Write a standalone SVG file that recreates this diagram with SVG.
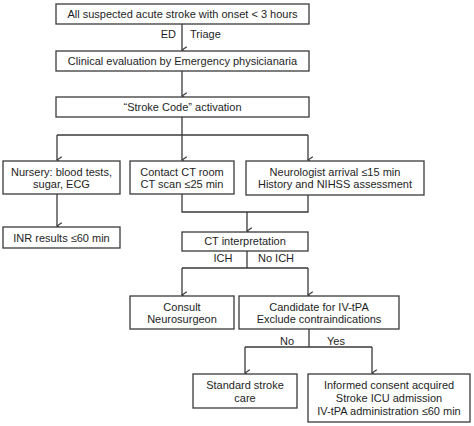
<svg xmlns="http://www.w3.org/2000/svg" width="474" height="426" viewBox="0 0 474 426">
<defs>
<style>
.box{fill:#fff;stroke:#3a3a3a;stroke-width:1.3}
.ln{fill:none;stroke:#3a3a3a;stroke-width:1.3}
text{font-family:"Liberation Sans",Arial,sans-serif;font-size:11px;fill:#1e1e1e}
.c{text-anchor:middle}
</style>
<marker id="ah" viewBox="0 0 10 10" refX="5" refY="9" markerWidth="8" markerHeight="8" markerUnits="userSpaceOnUse" orient="auto-start-reverse">
<path d="M1,3 L5,9 L9,3" fill="none" stroke="#3a3a3a" stroke-width="1.6"/>
</marker>
</defs>
<rect width="474" height="426" fill="#fff"/>
<g id="connectors">
<path class="ln" d="M182,24 V50" marker-end="url(#ah)"/>
<path class="ln" d="M182,71 V96" marker-end="url(#ah)"/>
<path class="ln" d="M182,117 V135 M57,135 H308"/>
<path class="ln" d="M57,135 V160" marker-end="url(#ah)"/>
<path class="ln" d="M182,135 V160" marker-end="url(#ah)"/>
<path class="ln" d="M308,135 V160" marker-end="url(#ah)"/>
<path class="ln" d="M57,194 V226" marker-end="url(#ah)"/>
<path class="ln" d="M182,194 V212 H308 V195"/>
<path class="ln" d="M247,212 V231" marker-end="url(#ah)"/>
<path class="ln" d="M247,251 V268 M182,268 H308"/>
<path class="ln" d="M182,268 V295" marker-end="url(#ah)"/>
<path class="ln" d="M308,268 V295" marker-end="url(#ah)"/>
<path class="ln" d="M309,329 V347 M245,347 H372"/>
<path class="ln" d="M245,347 V373" marker-end="url(#ah)"/>
<path class="ln" d="M372,347 V373" marker-end="url(#ah)"/>
<text x="176" y="38" text-anchor="end">ED</text>
<text x="190" y="38">Triage</text>
<text x="223" y="262" class="c">ICH</text>
<text x="258" y="262">No ICH</text>
<text x="287" y="345" class="c">No</text>
<text x="336" y="345" class="c">Yes</text>
</g>
<g id="n1"><rect class="box" x="56" y="4" width="253" height="20"/><text x="182.5" y="18" class="c">All suspected acute stroke with onset &lt; 3 hours</text></g>
<g id="n2"><rect class="box" x="56" y="51" width="253" height="20"/><text x="182.5" y="65" class="c">Clinical evaluation by Emergency physicianaria</text></g>
<g id="n3"><rect class="box" x="56" y="97" width="253" height="20"/><text x="182.5" y="111" class="c">“Stroke Code” activation</text></g>
<g id="n4"><rect class="box" x="3" y="161" width="117" height="33"/><text x="61.5" y="175.5" class="c">Nursery: blood tests,</text><text x="61.5" y="188" class="c">sugar, ECG</text></g>
<g id="n5"><rect class="box" x="130" y="161" width="104" height="33"/><text x="182" y="175.5" class="c">Contact CT room</text><text x="182" y="188" class="c">CT scan ≤25 min</text></g>
<g id="n6"><rect class="box" x="246" y="161" width="178" height="34"/><text x="335" y="175.5" class="c">Neurologist arrival ≤15 min</text><text x="335" y="188" class="c">History and NIHSS assessment</text></g>
<g id="n7"><rect class="box" x="3" y="227" width="117" height="21"/><text x="61.5" y="241.5" class="c">INR results ≤60 min</text></g>
<g id="n8"><rect class="box" x="182" y="232" width="126" height="19"/><text x="245" y="244.5" class="c">CT interpretation</text></g>
<g id="n9"><rect class="box" x="130" y="296" width="104" height="33"/><text x="182" y="310.5" class="c">Consult</text><text x="182" y="323" class="c">Neurosurgeon</text></g>
<g id="n10"><rect class="box" x="239" y="296" width="160" height="33"/><text x="319" y="310.5" class="c">Candidate for IV-tPA</text><text x="319" y="323" class="c">Exclude contraindications</text></g>
<g id="n11"><rect class="box" x="193" y="374" width="104" height="34"/><text x="245" y="389" class="c">Standard stroke</text><text x="245" y="402" class="c">care</text></g>
<g id="n12"><rect class="box" x="308" y="374" width="162" height="48"/><text x="389" y="389" class="c">Informed consent acquired</text><text x="389" y="402" class="c">Stroke ICU admission</text><text x="389" y="415" class="c">IV-tPA administration ≤60 min</text></g>
</svg>
